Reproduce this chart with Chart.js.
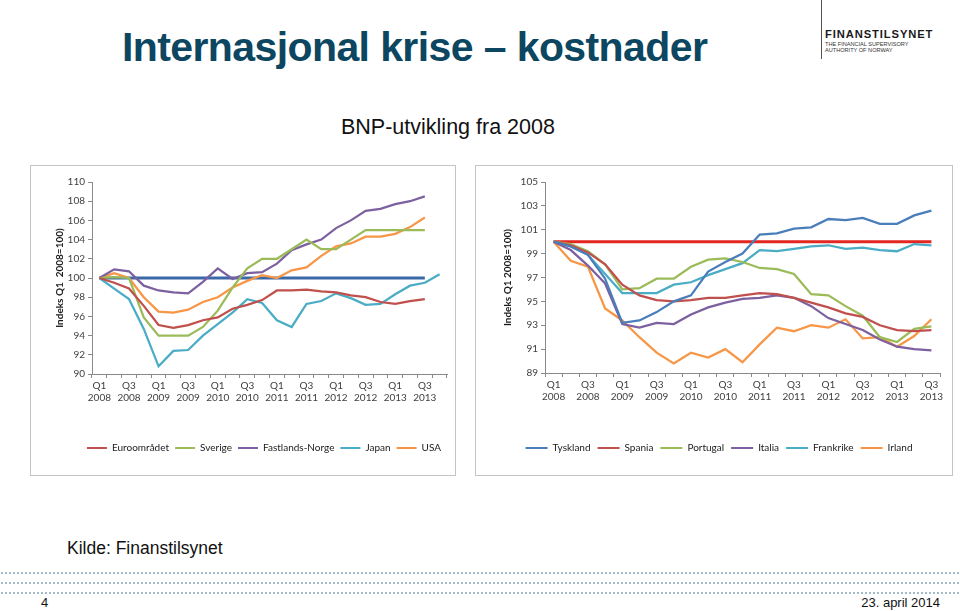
<!DOCTYPE html>
<html>
<head>
<meta charset="utf-8">
<script src="https://cdn.jsdelivr.net/npm/chart.js@4.4.0/dist/chart.umd.min.js"></script>
<style>
  html, body { margin: 0; padding: 0; }
  body { width: 960px; height: 611px; position: relative; background: #ffffff; overflow: hidden;
         font-family: "Liberation Sans", Arial, sans-serif; }
  .abs { position: absolute; white-space: nowrap; }
  #title { left: 122px; top: 27px; font-size: 41px; line-height: 41px; font-weight: bold; color: #0c4660; letter-spacing: -0.6px; }
  #subtitle { left: 341px; top: 117px; font-size: 21.5px; line-height: 21.5px; color: #111; }
  #source { left: 67px; top: 540px; font-size: 17.5px; line-height: 17.5px; color: #111; }
  #page { left: 41px; top: 596px; font-size: 13px; line-height: 13px; color: #111; }
  #date { right: 20px; top: 596px; font-size: 13px; line-height: 13px; color: #111; }
  #logoLine { left: 821px; top: 0; width: 1px; height: 59px; background: #555; }
  #logo1 { left: 825px; top: 29px; font-size: 11.2px; line-height: 11.2px; font-weight: bold; color: #1a1a1a; letter-spacing: 0.9px; }
  #logo2 { left: 825px; top: 42px; font-size: 5.6px; line-height: 5.6px; color: #333; }
  #logo3 { left: 825px; top: 48px; font-size: 5.6px; line-height: 5.6px; color: #333; }
  .box { position: absolute; border: 1px solid #c4c4c4; box-sizing: border-box; }
  canvas { position: absolute; }
  .dots { position: absolute; left: 0; width: 960px; height: 2px;
          background-image: radial-gradient(circle, #a3bac7 0.9px, transparent 1.1px);
          background-size: 4px 2px; }
</style>
</head>
<body>
<div id="title" class="abs">Internasjonal krise – kostnader</div>
<div id="subtitle" class="abs">BNP-utvikling fra 2008</div>
<div id="logoLine" class="abs"></div>
<div id="logo1" class="abs">FINANSTILSYNET</div>
<div id="logo2" class="abs">THE FINANCIAL SUPERVISORY</div>
<div id="logo3" class="abs">AUTHORITY OF NORWAY</div>

<div class="box" style="left:30px;top:165px;width:426px;height:311px;"></div>
<div class="box" style="left:475px;top:165px;width:478px;height:311px;"></div>
<canvas id="leftChart" width="425" height="310" style="left:30px;top:165px;"></canvas>
<canvas id="rightChart" width="477" height="310" style="left:475px;top:165px;"></canvas>

<div id="source" class="abs">Kilde: Finanstilsynet</div>
<div class="dots" style="top:572px;"></div>
<div class="dots" style="top:582px;"></div>
<div class="dots" style="top:592px;"></div>
<div id="page" class="abs">4</div>
<div id="date" class="abs">23. april 2014</div>

<script>
// ---------- categories ----------
const leftCategories = [
  'Q1 2008','Q2 2008','Q3 2008','Q4 2008',
  'Q1 2009','Q2 2009','Q3 2009','Q4 2009',
  'Q1 2010','Q2 2010','Q3 2010','Q4 2010',
  'Q1 2011','Q2 2011','Q3 2011','Q4 2011',
  'Q1 2012','Q2 2012','Q3 2012','Q4 2012',
  'Q1 2013','Q2 2013','Q3 2013','Q4 2013'
];
const rightCategories = [
  'Q1 2008','Q2 2008','Q3 2008','Q4 2008',
  'Q1 2009','Q2 2009','Q3 2009','Q4 2009',
  'Q1 2010','Q2 2010','Q3 2010','Q4 2010',
  'Q1 2011','Q2 2011','Q3 2011','Q4 2011',
  'Q1 2012','Q2 2012','Q3 2012','Q4 2012',
  'Q1 2013','Q2 2013','Q3 2013'
];

// ---------- left chart series (Indeks Q1 2008 = 100) ----------
const euroomradet    = [100, 99.5, 98.9, 97.1, 95.1, 94.8, 95.1, 95.6, 95.9, 96.8, 97.2, 97.7, 98.7, 98.7, 98.8, 98.6, 98.5, 98.2, 98.0, 97.5, 97.3, 97.6, 97.8, null];
const sverige        = [100, 100.1, 100.0, 95.9, 94.0, 94.0, 94.0, 94.9, 96.6, 99.0, 101.0, 102.0, 102.0, 103.0, 104.0, 103.0, 103.0, 104.0, 105.0, 105.0, 105.0, 105.0, 105.0, null];
const fastlandsNorge = [100, 100.9, 100.7, 99.2, 98.7, 98.5, 98.4, 99.6, 101.0, 99.9, 100.5, 100.6, 101.5, 102.9, 103.5, 104.0, 105.2, 106.0, 107.0, 107.2, 107.7, 108.0, 108.5, null];
const japan          = [100, 98.9, 97.8, 94.7, 90.8, 92.4, 92.5, 94.0, 95.2, 96.4, 97.8, 97.4, 95.6, 94.9, 97.3, 97.6, 98.4, 97.9, 97.2, 97.3, 98.3, 99.2, 99.5, 100.4];
const usa            = [100, 100.5, 100.0, 98.0, 96.5, 96.4, 96.7, 97.5, 98.0, 99.0, 99.7, 100.3, 100.0, 100.8, 101.1, 102.3, 103.3, 103.6, 104.3, 104.3, 104.6, 105.3, 106.3, null];
const leftBase       = [100, 100, 100, 100, 100, 100, 100, 100, 100, 100, 100, 100, 100, 100, 100, 100, 100, 100, 100, 100, 100, 100, 100, null];

// ---------- right chart series ----------
const tyskland  = [100, 99.6, 98.9, 96.9, 93.2, 93.4, 94.1, 95.0, 95.5, 97.5, 98.3, 99.0, 100.6, 100.7, 101.1, 101.2, 101.9, 101.8, 102.0, 101.5, 101.5, 102.2, 102.6];
const spania    = [100, 99.7, 99.1, 98.1, 96.4, 95.5, 95.1, 95.0, 95.1, 95.3, 95.3, 95.5, 95.7, 95.6, 95.3, 94.9, 94.5, 94.0, 93.7, 93.0, 92.6, 92.5, 92.6];
const portugal  = [100, 99.8, 99.2, 98.1, 96.0, 96.1, 96.9, 96.9, 97.9, 98.5, 98.6, 98.3, 97.8, 97.7, 97.3, 95.6, 95.5, 94.6, 93.8, 92.0, 91.6, 92.7, 92.9];
const italia    = [100, 99.3, 98.0, 96.5, 93.1, 92.8, 93.2, 93.1, 93.9, 94.5, 94.9, 95.2, 95.3, 95.5, 95.3, 94.6, 93.6, 93.1, 92.6, 91.8, 91.2, 91.0, 90.9];
const frankrike = [100, 99.6, 98.9, 97.3, 95.7, 95.7, 95.7, 96.4, 96.6, 97.2, 97.7, 98.2, 99.3, 99.2, 99.4, 99.6, 99.7, 99.4, 99.5, 99.3, 99.2, 99.8, 99.7];
const irland    = [100, 98.4, 97.9, 94.4, 93.4, 92.0, 90.7, 89.8, 90.7, 90.3, 91.0, 89.9, 91.4, 92.8, 92.5, 93.0, 92.8, 93.5, 91.9, 92.0, 91.2, 92.1, 93.5];
const rightBase = [100, 100, 100, 100, 100, 100, 100, 100, 100, 100, 100, 100, 100, 100, 100, 100, 100, 100, 100, 100, 100, 100, 100];

// ---------- axis settings ----------
const leftYAxisTitle  = 'Indeks Q1  2008=100)';
const rightYAxisTitle = 'Indeks Q1 2008=100)';

const COL = {
  red: '#c0504d', green: '#9bbb59', purple: '#7d60a0', teal: '#4bacc6',
  orange: '#f79646', blue: '#4a7ebb', baseBlue: '#3b69a8', baseRed: '#e3261f'
};

Chart.defaults.font.family = 'Lato, "Liberation Sans", Arial, sans-serif';

function ds(label, data, color, width, isBase) {
  return { label, data, borderColor: color, backgroundColor: color,
           borderWidth: width, pointRadius: 0, tension: 0, fill: false,
           spanGaps: false, isBase: !!isBase };
}

function makeChart(id, cats, datasets, yMin, yMax, yTitle, cfg) {
  const tickFont = { family: 'Lato', size: 10 };
  return new Chart(document.getElementById(id), {
    type: 'line',
    data: { labels: cats, datasets },
    options: {
      responsive: false,
      animation: false,
      layout: { padding: { left: cfg.padL, right: cfg.padR, top: 17, bottom: 12 } },
      plugins: {
        tooltip: { enabled: false },
        legend: {
          position: 'bottom',
          align: cfg.legendAlign,
          fullSize: true,
          labels: {
            font: { family: 'Lato', size: 10 },
            color: '#1a1a1a',
            boxWidth: cfg.boxW,
            boxHeight: 2,
            padding: cfg.legendPad,
            filter: (item, data) => !data.datasets[item.datasetIndex].isBase,
            generateLabels: chart => Chart.defaults.plugins.legend.labels.generateLabels(chart)
              .map(l => Object.assign(l, { lineWidth: 0 }))
          }
        }
      },
      scales: {
        x: {
          offset: true,
          grid: { offset: true, drawOnChartArea: false, drawTicks: true, tickLength: 4, color: '#8a8a8a' },
          border: { color: '#8a8a8a', width: 1 },
          ticks: {
            autoSkip: false, maxRotation: 0, minRotation: 0, padding: 2,
            font: tickFont, color: '#404040',
            callback: (v, i) => (i % 2 === 0 ? cats[i].split(' ') : '')
          },
          afterFit: s => { s.height = 63; }
        },
        y: {
          min: yMin, max: yMax,
          ticks: { stepSize: 2, padding: 3, font: tickFont, color: '#404040' },
          grid: { drawOnChartArea: false, drawTicks: true, tickLength: 4, color: '#8a8a8a' },
          border: { color: '#8a8a8a', width: 1 },
          title: { display: true, text: yTitle, color: '#1a1a1a',
                   font: { family: 'Lato', size: 10, weight: 'bold' }, padding: { top: 4, bottom: 0 } },
          afterFit: s => { s.width = cfg.yW; }
        }
      }
    }
  });
}

makeChart('leftChart', leftCategories, [
  ds('Euroområdet', euroomradet, COL.red, 2.25),
  ds('Sverige', sverige, COL.green, 2.25),
  ds('Fastlands-Norge', fastlandsNorge, COL.purple, 2.25),
  ds('Japan', japan, COL.teal, 2.25),
  ds('USA', usa, COL.orange, 2.25),
  ds('Indeks 100', leftBase, COL.baseBlue, 3, true)
], 90, 110, leftYAxisTitle, { padL: 20, padR: 8, yW: 42, legendAlign: 'end', boxW: 20, legendPad: 6 });

makeChart('rightChart', rightCategories, [
  ds('Tyskland', tyskland, COL.blue, 2.25),
  ds('Spania', spania, COL.red, 2.25),
  ds('Portugal', portugal, COL.green, 2.25),
  ds('Italia', italia, COL.purple, 2.25),
  ds('Frankrike', frankrike, COL.teal, 2.25),
  ds('Irland', irland, COL.orange, 2.25),
  ds('Indeks 100', rightBase, COL.baseRed, 3, true)
], 89, 105, rightYAxisTitle, { padL: 23, padR: 12, yW: 47, legendAlign: 'center', boxW: 22, legendPad: 7 });
</script>
</body>
</html>
